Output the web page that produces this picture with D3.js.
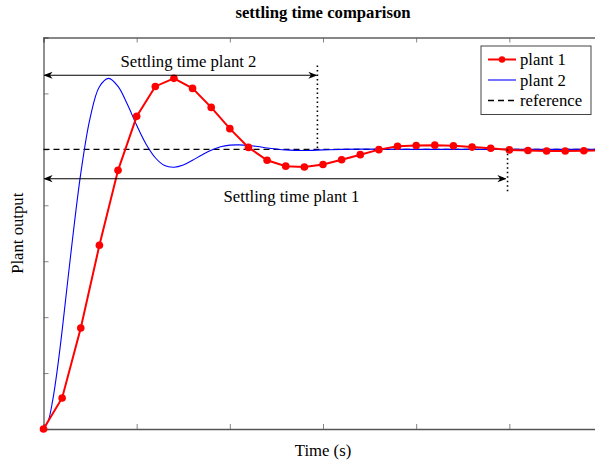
<!DOCTYPE html>
<html>
<head>
<meta charset="utf-8">
<script src="https://cdn.jsdelivr.net/npm/d3@7"></script>
<style>
  body { margin: 0; background: #fff; }
  svg text { font-family: "Liberation Serif", "Times New Roman", serif; }
</style>
</head>
<body>
<div id="chart"></div>
<script>
// sampled plant 1 output (one marker per sample)
var plant1Time = [0, 0.2, 0.4, 0.6, 0.8, 1.0, 1.2, 1.4, 1.6, 1.8, 2.0, 2.2, 2.4, 2.6, 2.8, 3.0,
                  3.2, 3.4, 3.6, 3.8, 4.0, 4.2, 4.4, 4.6, 4.8, 5.0, 5.2, 5.4, 5.6, 5.8, 6.0];
var plant1Values = [0, 0.111, 0.361, 0.657, 0.925, 1.118, 1.225, 1.254, 1.218, 1.150, 1.074,
                    1.007, 0.961, 0.940, 0.937, 0.946, 0.963, 0.981, 0.999, 1.011, 1.014,
                    1.015, 1.013, 1.008, 1.004, 0.998, 0.996, 0.994, 0.994, 0.995, 0.997];

// plant 2 output
var plant2Time = [0, 0.05, 0.1, 0.15, 0.2, 0.3, 0.4, 0.5, 0.6, 0.7, 0.8, 0.9, 1.0, 1.1, 1.2,
                  1.3, 1.4, 1.5, 1.6, 1.7, 1.8, 1.9, 2.0, 2.1, 2.2, 2.3, 2.4, 2.5, 2.6, 2.8,
                  3.0, 3.2, 3.4, 4.0, 5.0, 6.0];
var plant2Values = [0, 0.028, 0.105, 0.217, 0.352, 0.646, 0.914, 1.112, 1.224, 1.254, 1.225,
                    1.161, 1.086, 1.019, 0.970, 0.942, 0.936, 0.944, 0.961, 0.980, 0.997,
                    1.009, 1.015, 1.016, 1.014, 1.010, 1.005, 1.001, 0.998, 0.996, 0.998,
                    1.000, 1.001, 1.000, 1.000, 1.000];

var referenceValue = 1.0;

// settling time annotations
var settlingLabels = ["Settling time plant 1", "Settling time plant 2"];
var settlingTimes = [4.97, 2.94];
var settlingLevels = [0.895, 1.265];

var xTicks = [0, 1, 2, 3, 4, 5, 6];
var yTicks = [0, 0.2, 0.4, 0.6, 0.8, 1.0, 1.2, 1.4];

var legendLabels = ["plant 1", "plant 2", "reference"];

var chartWidth = 595, chartHeight = 466;
var plotLeft = 43.5, plotRight = 602.5, plotTop = 37.5, plotBottom = 429;

var svg = d3.select("#chart").append("svg")
    .attr("width", chartWidth)
    .attr("height", chartHeight);

var x = d3.scaleLinear().domain([0, 6]).range([plotLeft, plotRight]);
var y = d3.scaleLinear().domain([0, 1.4]).range([plotBottom, plotTop]);

// arrow heads
var defs = svg.append("defs");
defs.append("marker")
    .attr("id", "tip")
    .attr("viewBox", "0 0 10 10")
    .attr("refX", 9).attr("refY", 5)
    .attr("markerWidth", 9).attr("markerHeight", 9)
    .attr("markerUnits", "userSpaceOnUse")
    .attr("orient", "auto-start-reverse")
  .append("path")
    .attr("d", "M0,1 L10,5 L0,9 L3,5 Z")
    .attr("fill", "#000");

// axes (inward ticks, no labels)
var bottomAxis = svg.append("g")
    .attr("transform", "translate(0," + plotBottom + ")")
    .call(d3.axisBottom(x).tickValues(xTicks.slice(1)).tickSize(-5).tickFormat(""));
var topAxis = svg.append("g")
    .attr("transform", "translate(0," + plotTop + ")")
    .call(d3.axisTop(x).tickValues(xTicks.slice(1)).tickSize(-5).tickFormat(""));
var leftAxis = svg.append("g")
    .attr("transform", "translate(" + plotLeft + ",0)")
    .call(d3.axisLeft(y).tickValues(yTicks.slice(1, -1)).tickSize(-5).tickFormat(""));

[bottomAxis, leftAxis].forEach(function(a) {
  a.select(".domain").attr("stroke", "#555").attr("stroke-width", 1.3);
  a.selectAll(".tick line").attr("stroke", "#666").attr("stroke-width", 0.8);
});
topAxis.select(".domain").attr("stroke", "#111").attr("stroke-width", 1.1);
topAxis.selectAll(".tick line").attr("stroke", "#666").attr("stroke-width", 0.8);

// reference line
svg.append("line")
    .attr("x1", x(0)).attr("x2", x(6))
    .attr("y1", y(referenceValue)).attr("y2", y(referenceValue))
    .attr("stroke", "#000")
    .attr("stroke-width", 1.4)
    .attr("stroke-dasharray", "6,4");

// plant 2
var line2 = d3.line()
    .x(function(d, i) { return x(plant2Time[i]); })
    .y(function(d) { return y(d); })
    .curve(d3.curveCatmullRom);

svg.append("path")
    .datum(plant2Values)
    .attr("fill", "none")
    .attr("stroke", "#0000ff")
    .attr("stroke-width", 1.1)
    .attr("d", line2);

// plant 1
var line1 = d3.line()
    .x(function(d, i) { return x(plant1Time[i]); })
    .y(function(d) { return y(d); });

svg.append("path")
    .datum(plant1Values)
    .attr("fill", "none")
    .attr("stroke", "#ff0000")
    .attr("stroke-width", 2)
    .attr("d", line1);

svg.append("g").selectAll("circle")
    .data(plant1Values)
    .enter().append("circle")
    .attr("cx", function(d, i) { return x(plant1Time[i]); })
    .attr("cy", function(d) { return y(d); })
    .attr("r", 3.8)
    .attr("fill", "#ff0000");

// settling time arrows
var notes = svg.append("g");
settlingTimes.forEach(function(t, i) {
  notes.append("line")
      .attr("x1", x(0) + 1).attr("x2", x(t) - 1)
      .attr("y1", y(settlingLevels[i])).attr("y2", y(settlingLevels[i]))
      .attr("stroke", "#000")
      .attr("stroke-width", 1.1)
      .attr("marker-start", "url(#tip)")
      .attr("marker-end", "url(#tip)");
});

// dotted drop lines
notes.append("line")
    .attr("x1", x(settlingTimes[1])).attr("x2", x(settlingTimes[1]))
    .attr("y1", y(1.30)).attr("y2", y(referenceValue))
    .attr("stroke", "#000").attr("stroke-width", 1.6)
    .attr("stroke-dasharray", "1.5,3");
notes.append("line")
    .attr("x1", x(settlingTimes[0]) + 1).attr("x2", x(settlingTimes[0]) + 1)
    .attr("y1", y(referenceValue)).attr("y2", y(0.846))
    .attr("stroke", "#000").attr("stroke-width", 1.6)
    .attr("stroke-dasharray", "1.5,3");

notes.append("text")
    .attr("x", 188.5).attr("y", 67)
    .attr("text-anchor", "middle")
    .attr("font-size", "16.7px")
    .text(settlingLabels[1]);
notes.append("text")
    .attr("x", 291.5).attr("y", 202)
    .attr("text-anchor", "middle")
    .attr("font-size", "16.7px")
    .text(settlingLabels[0]);

// title and axis labels
svg.append("text")
    .attr("x", (plotLeft + plotRight) / 2).attr("y", 18)
    .attr("text-anchor", "middle")
    .attr("font-size", "16.7px")
    .attr("font-weight", "bold")
    .text("settling time comparison");

svg.append("text")
    .attr("x", (plotLeft + plotRight) / 2).attr("y", 456)
    .attr("text-anchor", "middle")
    .attr("font-size", "16.7px")
    .text("Time (s)");

svg.append("text")
    .attr("transform", "translate(23," + ((plotTop + plotBottom) / 2) + ") rotate(-90)")
    .attr("text-anchor", "middle")
    .attr("font-size", "16.7px")
    .text("Plant output");

// legend
var legend = svg.append("g").attr("transform", "translate(481,46)");
legend.append("rect")
    .attr("width", 110).attr("height", 68.5)
    .attr("fill", "#fff")
    .attr("stroke", "#444")
    .attr("stroke-width", 1);

var rowY = [13.5, 34, 54.5];
legendLabels.forEach(function(label, i) {
  var row = legend.append("g").attr("transform", "translate(0," + rowY[i] + ")");
  var sample = row.append("line")
      .attr("x1", 7).attr("x2", 35)
      .attr("y1", 0).attr("y2", 0);
  if (i === 0) {
    sample.attr("stroke", "#ff0000").attr("stroke-width", 2);
    row.append("circle").attr("cx", 21).attr("cy", 0).attr("r", 3.2).attr("fill", "#ff0000");
  } else if (i === 1) {
    sample.attr("stroke", "#0000ff").attr("stroke-width", 1.1);
  } else {
    sample.attr("stroke", "#000").attr("stroke-width", 1.4).attr("stroke-dasharray", "6,4");
  }
  row.append("text")
      .attr("x", 39).attr("y", 5.5)
      .attr("font-size", "16.7px")
      .text(label);
});
</script>
</body>
</html>
